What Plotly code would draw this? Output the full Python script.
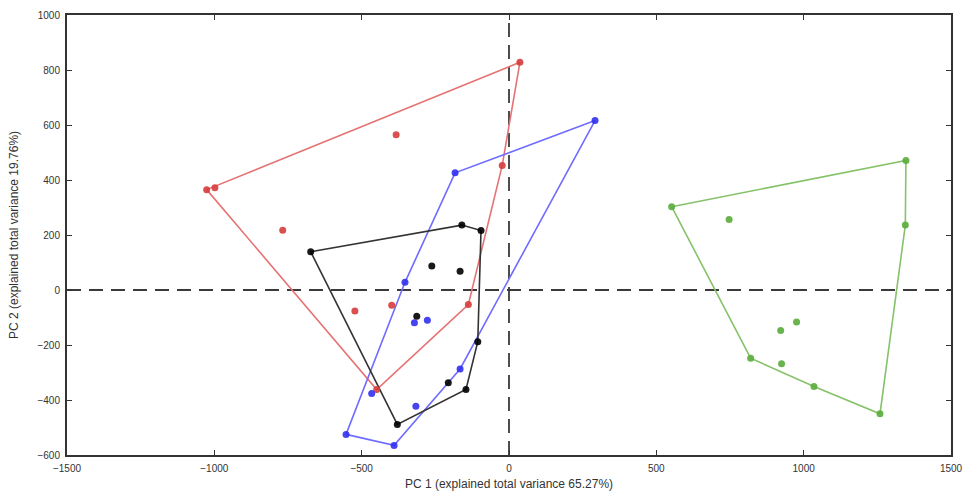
import plotly.graph_objects as go

# PCA scores (PC1, PC2) per group
red_x = [37, -1026, -998, -383, -768, -23, -138, -398, -523, -449]
red_y = [828, 365, 372, 565, 217, 453, -53, -55, -76, -362]

black_x = [-673, -160, -95, -262, -166, -313, -106, -206, -146, -379]
black_y = [139, 236, 216, 87, 68, -95, -188, -337, -362, -489]

blue_x = [-183, 292, -353, -321, -277, -166, -466, -316, -553, -390]
blue_y = [426, 616, 28, -119, -110, -287, -376, -423, -525, -565]

green_x = [552, 1347, 1345, 747, 820, 922, 976, 925, 1035, 1259]
green_y = [303, 471, 236, 256, -248, -147, -116, -268, -351, -450]

x_ticks = [-1500, -1000, -500, 0, 500, 1000, 1500]
y_ticks = [-600, -400, -200, 0, 200, 400, 600, 800, 1000]


def hull(xs, ys):
    pts = sorted(zip(xs, ys))

    def cross(o, a, b):
        return (a[0] - o[0]) * (b[1] - o[1]) - (a[1] - o[1]) * (b[0] - o[0])

    lower, upper = [], []
    for p in pts:
        while len(lower) >= 2 and cross(lower[-2], lower[-1], p) <= 0:
            lower.pop()
        lower.append(p)
    for p in reversed(pts):
        while len(upper) >= 2 and cross(upper[-2], upper[-1], p) <= 0:
            upper.pop()
        upper.append(p)
    h = lower[:-1] + upper[:-1]
    h.append(h[0])
    return [p[0] for p in h], [p[1] for p in h]


groups = [
    (red_x, red_y, "#e57373", "#d63c3c"),
    (blue_x, blue_y, "#6f6cff", "#3030f0"),
    (black_x, black_y, "#333333", "#000000"),
    (green_x, green_y, "#86c26a", "#5aac3c"),
]

fig = go.Figure()
for xs, ys, lc, mc in groups:
    hx, hy = hull(xs, ys)
    fig.add_trace(go.Scatter(x=hx, y=hy, mode="lines",
                             line=dict(color=lc, width=1.6),
                             hoverinfo="skip", showlegend=False))
for xs, ys, lc, mc in groups:
    fig.add_trace(go.Scatter(x=xs, y=ys, mode="markers",
                             marker=dict(color=mc, size=7, opacity=0.9),
                             showlegend=False))

fig.add_shape(type="line", xref="x", yref="paper", x0=0, x1=0, y0=0, y1=1,
              line=dict(color="#3a3a3a", width=1.8, dash="14px,8px"), layer="below")
fig.add_shape(type="line", xref="paper", yref="y", x0=0, x1=1, y0=0, y1=0,
              line=dict(color="#3a3a3a", width=1.8, dash="14px,8px"), layer="below")

axis_common = dict(
    showgrid=False, zeroline=False, showline=True, linecolor="#333333",
    linewidth=2, mirror="ticks", ticks="inside", ticklen=5, tickwidth=1,
    tickcolor="#333333", ticklabelstandoff=3, automargin=False,
    tickfont=dict(family="Arial, Liberation Sans", size=10, color="#333333"),
)

fig.update_layout(
    width=966, height=493,
    margin=dict(l=67, r=15, t=15, b=38),
    paper_bgcolor="white", plot_bgcolor="white",
    xaxis=dict(range=[-1500, 1500], tickvals=x_ticks,
               title=dict(text="PC 1 (explained total variance 65.27%)",
                          font=dict(family="Arial, Liberation Sans", size=12, color="#333333"),
                          standoff=7),
               **axis_common),
    yaxis=dict(range=[-600, 1000], tickvals=y_ticks,
               title=dict(text="PC 2 (explained total variance 19.76%)",
                          font=dict(family="Arial, Liberation Sans", size=12, color="#333333"),
                          standoff=16),
               **axis_common),
)

fig.write_html("out.html")
